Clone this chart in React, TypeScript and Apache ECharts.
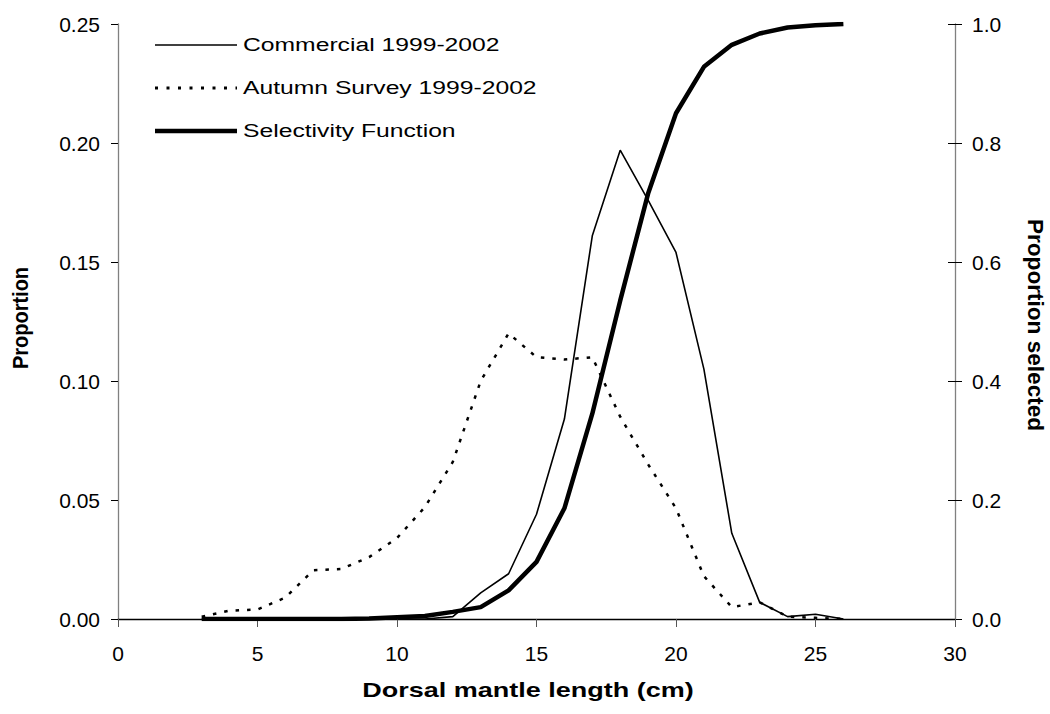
import React, { useEffect, useRef } from "react";
import * as echarts from "echarts";

// Dorsal mantle length (cm)
const lengths = [3, 4, 5, 6, 7, 8, 9, 10, 11, 12, 13, 14, 15, 16, 17, 18, 19, 20, 21, 22, 23, 24, 25, 26];
// Proportion (left axis)
const commercial = [0, 0, 0, 0, 0, 0, 0, 0, 0, 0.001, 0.011, 0.019, 0.044, 0.084, 0.161, 0.197, 0.176, 0.154, 0.105, 0.036, 0.007, 0.001, 0.002, 0];
const autumnSurvey = [0.001, 0.0035, 0.004, 0.009, 0.0205, 0.021, 0.026, 0.034, 0.047, 0.066, 0.1, 0.12, 0.11, 0.109, 0.11, 0.085, 0.065, 0.0465, 0.018, 0.005, 0.007, 0.001, 0.0005, 0];
// Proportion selected (right axis)
const selectivity = [0, 0, 0, 0, 0, 0, 0.001, 0.003, 0.005, 0.012, 0.02, 0.048, 0.096, 0.186, 0.345, 0.535, 0.715, 0.85, 0.928, 0.965, 0.984, 0.994, 0.998, 1.0];

const seriesNames = ["Commercial 1999-2002", "Autumn Survey 1999-2002", "Selectivity Function"];
const xTitle = "Dorsal mantle length (cm)";
const yLeftTitle = "Proportion";
const yRightTitle = "Proportion selected";

const FONT = "'Liberation Sans', Arial, sans-serif";

export default function App() {
  const ref = useRef<HTMLDivElement>(null);

  useEffect(() => {
    if (!ref.current) return;
    const chart = echarts.init(ref.current, undefined, { renderer: "svg" });
    const pairs = (vals: number[]) => lengths.map((x, i) => [x, vals[i]]);

    const legendRows = [
      { y: 45, dash: undefined as any, width: 1.6 },
      { y: 88, dash: [3, 8.5], width: 3 },
      { y: 131, dash: undefined as any, width: 4.5 },
    ];

    const graphic: any[] = [];
    legendRows.forEach((r, i) => {
      graphic.push({
        type: "line",
        shape: { x1: 155, y1: r.y, x2: 237, y2: r.y },
        style: { stroke: "#000", lineWidth: r.width, lineDash: r.dash },
      });
      graphic.push({
        type: "text",
        x: 243,
        y: r.y,
        scaleX: 1.3,
        style: {
          text: seriesNames[i],
          fontSize: 19,
          fontFamily: FONT,
          fill: "#000",
          align: "left",
          verticalAlign: "middle",
        },
      });
    });
    graphic.push({
      type: "text",
      x: 528,
      y: 690,
      scaleX: 1.35,
      style: {
        text: xTitle,
        fontSize: 20,
        fontWeight: "bold",
        fontFamily: FONT,
        fill: "#000",
        align: "center",
        verticalAlign: "middle",
      },
    });
    graphic.push({
      type: "text",
      x: 20,
      y: 318,
      rotation: Math.PI / 2,
      scaleY: 1.1,
      style: {
        text: yLeftTitle,
        fontSize: 20,
        fontWeight: "bold",
        fontFamily: FONT,
        fill: "#000",
        align: "center",
        verticalAlign: "middle",
      },
    });
    graphic.push({
      type: "text",
      x: 1035,
      y: 325,
      rotation: -Math.PI / 2,
      scaleX: 1.13,
      scaleY: 1.1,
      style: {
        text: yRightTitle,
        fontSize: 20,
        fontWeight: "bold",
        fontFamily: FONT,
        fill: "#000",
        align: "center",
        verticalAlign: "middle",
      },
    });

    const labelStyle = { color: "#000", fontSize: 21, fontFamily: FONT };

    chart.setOption({
      animation: false,
      backgroundColor: "#fff",
      grid: { left: 118, right: 95, top: 24, bottom: 95, containLabel: false },
      xAxis: {
        type: "value",
        min: 0,
        max: 30,
        interval: 5,
        axisLine: { show: true, onZero: false, lineStyle: { color: "#000", width: 1.3 } },
        axisTick: { show: true, length: 8, lineStyle: { color: "#555", width: 1 } },
        axisLabel: { ...labelStyle, margin: 24 },
        splitLine: { show: false },
      },
      yAxis: [
        {
          type: "value",
          position: "left",
          min: 0,
          max: 0.25,
          interval: 0.05,
          axisLine: { show: true, lineStyle: { color: "#808080", width: 1.3 } },
          axisTick: { show: true, length: 7, lineStyle: { color: "#000", width: 1 } },
          axisLabel: { ...labelStyle, margin: 18, formatter: (v: number) => v.toFixed(2) },
          splitLine: { show: false },
        },
        {
          type: "value",
          position: "right",
          min: 0,
          max: 1,
          interval: 0.2,
          axisLine: { show: true, lineStyle: { color: "#808080", width: 1.3 } },
          axisTick: { show: true, length: 7, lineStyle: { color: "#000", width: 1 } },
          axisLabel: { ...labelStyle, margin: 17, formatter: (v: number) => v.toFixed(1) },
          splitLine: { show: false },
        },
        {
          type: "value",
          position: "right",
          min: 0,
          max: 1,
          interval: 0.2,
          axisLine: { show: false },
          axisTick: { show: true, inside: true, length: 7, lineStyle: { color: "#000", width: 1 } },
          axisLabel: { show: false },
          splitLine: { show: false },
        },
      ],
      series: [
        {
          name: seriesNames[0],
          type: "line",
          yAxisIndex: 0,
          data: pairs(commercial),
          showSymbol: false,
          symbol: "none",
          lineStyle: { color: "#000", width: 1.6 },
          z: 3,
        },
        {
          name: seriesNames[1],
          type: "line",
          yAxisIndex: 0,
          data: pairs(autumnSurvey),
          showSymbol: false,
          symbol: "none",
          lineStyle: { color: "#000", width: 2.5, type: [3.5, 8] },
          z: 2,
        },
        {
          name: seriesNames[2],
          type: "line",
          yAxisIndex: 1,
          data: pairs(selectivity),
          showSymbol: false,
          symbol: "none",
          lineStyle: { color: "#000", width: 4.5 },
          z: 4,
        },
      ],
      graphic,
    });

    return () => chart.dispose();
  }, []);

  return (
    <div
      ref={ref}
      style={{ position: "fixed", left: 0, top: 0, width: 1050, height: 714, background: "#fff" }}
    />
  );
}
